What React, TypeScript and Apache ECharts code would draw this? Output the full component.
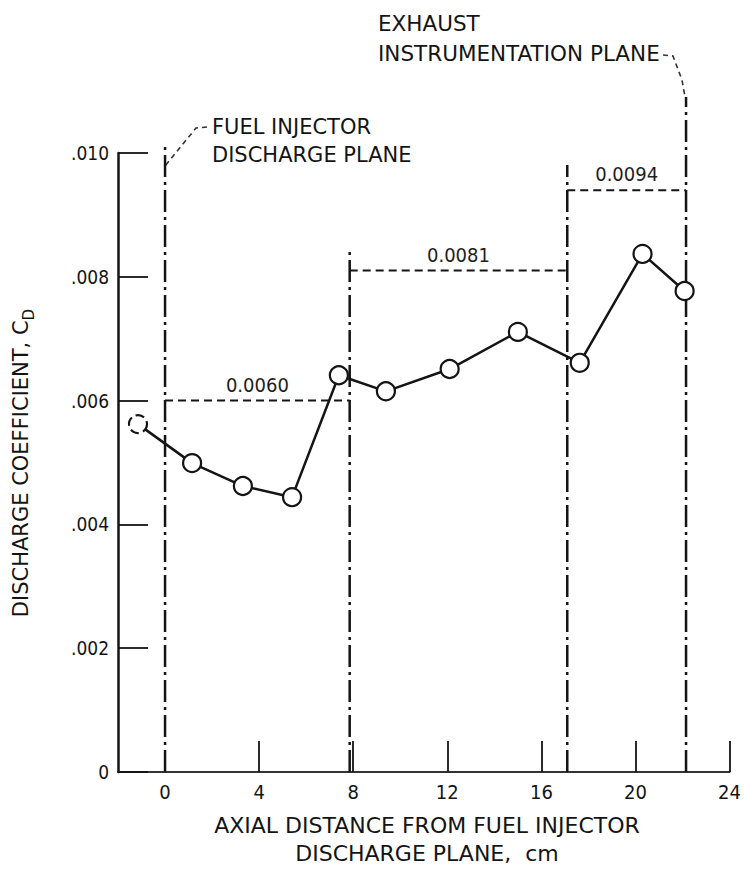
import React, { useEffect, useRef } from 'react';
import * as echarts from 'echarts';

// ---- data ----
const distanceCm = [-1.15, 1.15, 3.31, 5.4, 7.39, 9.39, 12.1, 15.0, 17.63, 20.3, 22.09];
const dischargeCoef = [0.00562, 0.00499, 0.00462, 0.00444, 0.00641, 0.00615, 0.00651, 0.00711, 0.00661, 0.00837, 0.00777];
const planeX = [0, 7.85, 17.1, 22.15];
const avgStart = [0, 7.85, 17.1];
const avgEnd = [7.85, 17.1, 22.15];
const avgValue = [0.006, 0.0081, 0.0094];
const xLabelValues = [0, 4, 8, 12, 16, 20, 24];
const xTickValues = [4, 8, 12, 16, 20, 24];

// ---- layout constants ----
const planeTopPx = [145, 247, 165, 97];
const FONT = "'DejaVu Sans', 'Liberation Sans', sans-serif";
const FONT_NARROW = "'DejaVu Sans Condensed', 'Liberation Sans Narrow', sans-serif";
const INK = '#141414';

export default function App() {
  const ref = useRef<HTMLDivElement>(null);

  useEffect(() => {
    if (!ref.current) return;
    const chart = echarts.init(ref.current, undefined, { renderer: 'svg' });

    const lineData = distanceCm.map((x, i) =>
      i === 0
        ? { value: [x, dischargeCoef[i]], itemStyle: { borderType: 'dashed' } }
        : { value: [x, dischargeCoef[i]] }
    );

    const option: any = {
      animation: false,
      backgroundColor: '#ffffff',
      grid: { left: 118, right: 12, top: 153, bottom: 99 },
      xAxis: {
        type: 'value',
        min: -2,
        max: 24,
        axisLine: { show: true, onZero: false, lineStyle: { color: '#333', width: 2 } },
        axisTick: {
          show: true,
          inside: true,
          length: 31,
          customValues: xTickValues,
          lineStyle: { color: INK, width: 1.8 },
        },
        axisLabel: {
          customValues: xLabelValues,
          fontSize: 20,
          fontFamily: FONT_NARROW,
          color: INK,
          margin: 10,
        },
        splitLine: { show: false },
      },
      yAxis: {
        type: 'value',
        min: 0,
        max: 0.01,
        interval: 0.002,
        axisLine: { show: true, onZero: false, lineStyle: { color: INK, width: 2.5 } },
        axisTick: { show: true, inside: true, length: 30, lineStyle: { color: INK, width: 1.8 } },
        axisLabel: {
          fontSize: 19,
          fontFamily: FONT_NARROW,
          color: INK,
          margin: 9,
          formatter: (v: number) =>
            v === 0 ? '0' : '.' + String(Math.round(v * 1000)).padStart(3, '0'),
        },
        splitLine: { show: false },
      },
      series: [
        {
          type: 'custom',
          name: 'planes',
          coordinateSystem: 'cartesian2d',
          clip: false,
          silent: true,
          z: 1,
          encode: { x: 0, y: 1 },
          data: planeX.map((x) => [x, 0]),
          renderItem: (params: any, api: any) => {
            const p = api.coord([api.value(0), 0]);
            return {
              type: 'line',
              shape: { x1: p[0], y1: p[1], x2: p[0], y2: planeTopPx[params.dataIndex] },
              style: { stroke: INK, lineWidth: 2.5, lineDash: [22, 5, 3, 5] },
            };
          },
        },
        {
          type: 'custom',
          name: 'averages',
          coordinateSystem: 'cartesian2d',
          clip: false,
          silent: true,
          z: 1,
          encode: { x: [0, 2], y: 1 },
          data: avgStart.map((s, i) => [s, avgValue[i], avgEnd[i]]),
          renderItem: (params: any, api: any) => {
            const v = api.value(1);
            const a = api.coord([api.value(0), v]);
            const b = api.coord([api.value(2), v]);
            return {
              type: 'group',
              children: [
                {
                  type: 'line',
                  shape: { x1: a[0], y1: a[1], x2: b[0], y2: b[1] },
                  style: { stroke: INK, lineWidth: 2, lineDash: [8, 5] },
                },
                {
                  type: 'text',
                  x: (a[0] + b[0]) / 2,
                  y: a[1] - 16,
                  style: {
                    text: v.toFixed(4),
                    fontSize: 20,
                    fontFamily: FONT_NARROW,
                    fill: '#1e1e1e',
                    align: 'center',
                    verticalAlign: 'middle',
                  },
                },
              ],
            };
          },
        },
        {
          type: 'line',
          name: 'CD',
          z: 3,
          data: lineData,
          symbol: 'circle',
          symbolSize: 18,
          itemStyle: { color: '#ffffff', borderColor: INK, borderWidth: 2.2 },
          lineStyle: { color: INK, width: 2.5 },
        },
      ],
      graphic: [
        {
          type: 'text',
          x: 23,
          y: 463,
          rotation: Math.PI / 2,
          style: {
            text: '{a|DISCHARGE COEFFICIENT, C}{s|D}',
            align: 'center',
            verticalAlign: 'middle',
            rich: {
              a: { fontSize: 21, fontFamily: FONT, fill: INK, lineHeight: 25, verticalAlign: 'top' },
              s: { fontSize: 15, fontFamily: FONT, fill: INK, lineHeight: 17, padding: [11, 0, 0, 0], verticalAlign: 'top' },
            },
          },
        },
        {
          type: 'text',
          x: 427,
          y: 839,
          style: {
            text: 'AXIAL DISTANCE FROM FUEL INJECTOR\nDISCHARGE PLANE,  cm',
            fontSize: 22,
            lineHeight: 28,
            fontFamily: FONT,
            fill: INK,
            align: 'center',
            verticalAlign: 'middle',
          },
        },
        {
          type: 'text',
          x: 212,
          y: 141,
          style: {
            text: 'FUEL INJECTOR\nDISCHARGE PLANE',
            fontSize: 21,
            lineHeight: 28,
            fontFamily: FONT,
            fill: INK,
            align: 'left',
            verticalAlign: 'middle',
          },
        },
        {
          type: 'text',
          x: 378,
          y: 38,
          style: {
            text: 'EXHAUST\nINSTRUMENTATION PLANE',
            fontSize: 21.5,
            lineHeight: 30,
            fontFamily: FONT,
            fill: INK,
            align: 'left',
            verticalAlign: 'middle',
          },
        },
        {
          type: 'polyline',
          shape: { points: [[207, 127], [196, 128], [165, 166]] },
          style: { stroke: '#333', lineWidth: 1.6, lineDash: [5, 4], fill: null },
        },
        {
          type: 'polyline',
          shape: { points: [[663, 55], [673, 56], [682, 80], [685, 97]] },
          style: { stroke: '#333', lineWidth: 1.6, lineDash: [5, 4], fill: null },
        },
      ],
    };

    chart.setOption(option);
    return () => chart.dispose();
  }, []);

  return (
    <div
      ref={ref}
      style={{ position: 'fixed', left: 0, top: 0, width: 744, height: 871, background: '#fff' }}
    />
  );
}
